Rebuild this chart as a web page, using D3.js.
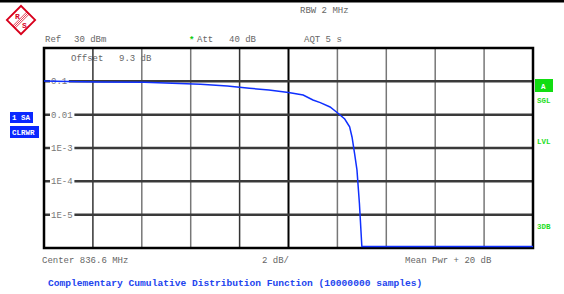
<!DOCTYPE html>
<html>
<head>
<meta charset="utf-8">
<script src="https://cdn.jsdelivr.net/npm/d3@7"></script>
<style>
    body { margin: 0; background: #fff; }
    svg { display: block; }
    text { font-family: "Liberation Mono", "DejaVu Sans Mono", monospace; white-space: pre; }
</style>
</head>
<body>
<div id="chart"></div>
<script>
// dB above mean power, and the probability of exceeding it
var levelDb = [0, 1.5, 2.3, 4.1, 6.4, 7.5, 8.4, 9.2, 10.0, 10.6, 11.0, 11.3, 11.7, 12.0, 12.3, 12.5, 12.6, 12.7, 12.8, 12.9, 13.0, 20];
var ccdf = [0.102, 0.097, 0.095, 0.094, 0.082, 0.072, 0.062, 0.055, 0.046, 0.039, 0.0275, 0.023, 0.017, 0.0114, 0.0074, 0.0043, 0.0021, 0.0007, 0.00022, 0.000022, 0.0000011, 0.0000011];

var xTicks = [0, 2, 4, 6, 8, 10, 12, 14, 16, 18, 20];
var yTicks = [1, 0.1, 0.01, 1e-3, 1e-4, 1e-5, 1e-6];
var yTickLabels = ['', '0.1', '0.01', '1E-3', '1E-4', '1E-5', ''];

var W = 564, H = 294;
var plot = {left: 44, right: 533, top: 48, bottom: 248};

var svg = d3.select('#chart').append('svg').attr('width', W).attr('height', H);

var x = d3.scaleLinear().domain([0, 20]).range([plot.left, plot.right]);
var y = d3.scaleLog().domain([1e-6, 1]).range([plot.bottom, plot.top]);

drawHeader();
drawGrid();
drawTrace();
drawSideLabels();
drawFooter();

function drawHeader() {
    svg.append('line')
        .attr('x1', 0).attr('x2', W).attr('y1', 1).attr('y2', 1)
        .attr('stroke', '#000').attr('stroke-width', 3);

    // R&S logo: outlined diamond, a band of stripes, R and S
    var red = '#d8001c';
    var logo = svg.append('g').attr('transform', 'translate(21,20) rotate(45)');
    logo.append('rect').attr('x', -10).attr('y', -10).attr('width', 20).attr('height', 20)
        .attr('fill', '#fff').attr('stroke', red).attr('stroke-width', 1.8);
    [-1.6, 0, 1.6].forEach(function (d) {
        logo.append('line').attr('x1', d).attr('x2', d).attr('y1', -10).attr('y2', 10)
            .attr('stroke', red).attr('stroke-width', 0.7);
    });
    svg.append('text').attr('x', 15).attr('y', 19).text('R')
        .attr('fill', red).attr('font-size', 8).attr('font-weight', 'bold')
        .attr('font-family', 'Liberation Sans');
    svg.append('text').attr('x', 22).attr('y', 28).text('S')
        .attr('fill', red).attr('font-size', 8).attr('font-weight', 'bold')
        .attr('font-family', 'Liberation Sans');

    var info = [
        {t: 'RBW 2 MHz', x: 300, y: 13},
        {t: 'Ref', x: 45, y: 42},
        {t: '30 dBm', x: 74, y: 42},
        {t: 'Att', x: 197, y: 42},
        {t: '40 dB', x: 229, y: 42},
        {t: 'AQT 5 s', x: 304, y: 42},
        {t: 'Offset', x: 71, y: 61},
        {t: '9.3 dB', x: 119, y: 61}
    ];
    svg.selectAll('.info').data(info).enter().append('text')
        .attr('class', 'info')
        .attr('x', function (d) { return d.x; })
        .attr('y', function (d) { return d.y; })
        .attr('font-size', 9).attr('fill', '#666')
        .text(function (d) { return d.t; });

    svg.append('text').attr('x', 189).attr('y', 43).text('*')
        .attr('font-size', 9).attr('fill', '#1c1').attr('font-weight', 'bold');
}

function drawGrid() {
    var g = svg.append('g');

    g.selectAll('.vgrid').data(xTicks.slice(1, -1)).enter().append('line')
        .attr('class', 'vgrid')
        .attr('x1', x).attr('x2', x)
        .attr('y1', plot.top).attr('y2', plot.bottom)
        .attr('stroke', function (d) { return d === 10 ? '#000' : (d === 2 || d === 8 ? '#333' : '#777'); })
        .attr('stroke-width', function (d) { return d === 10 ? 2 : 1.5; });

    var inner = yTicks.slice(1, -1);
    g.selectAll('.hgrid').data(inner).enter().append('line')
        .attr('class', 'hgrid')
        .attr('x1', plot.left).attr('x2', plot.right)
        .attr('y1', y).attr('y2', y)
        .attr('stroke', '#3a3a3a').attr('stroke-width', 2.5);

    var labels = g.selectAll('.ylab').data(inner).enter().append('g')
        .attr('class', 'ylab')
        .attr('transform', function (d) { return 'translate(50,' + y(d) + ')'; });
    labels.append('rect')
        .attr('x', 0).attr('y', -3).attr('height', 6)
        .attr('width', function (d) { return yTickLabels[yTicks.indexOf(d)].length * 5.6 + 2; })
        .attr('fill', '#fff');
    labels.append('text')
        .attr('x', 1).attr('y', 3)
        .attr('font-size', 9).attr('fill', '#777')
        .text(function (d) { return yTickLabels[yTicks.indexOf(d)]; });

    g.append('rect')
        .attr('x', plot.left).attr('y', plot.top)
        .attr('width', plot.right - plot.left).attr('height', plot.bottom - plot.top)
        .attr('fill', 'none').attr('stroke', '#000').attr('stroke-width', 2.5);
}

function drawTrace() {
    var pts = levelDb.map(function (d, i) { return [d, ccdf[i]]; });
    var line = d3.line()
        .x(function (d) { return x(d[0]); })
        .y(function (d) { return Math.min(y(d[1]), plot.bottom - 1.5); });
    svg.append('path')
        .attr('d', line(pts))
        .attr('fill', 'none').attr('stroke', '#1030ff').attr('stroke-width', 1.5);
}

function drawSideLabels() {
    var boxes = [
        {t: '1 SA', x: 10, y: 112, w: 23, h: 11},
        {t: 'CLRWR', x: 10, y: 126, w: 29, h: 12}
    ];
    var b = svg.selectAll('.lbox').data(boxes).enter().append('g').attr('class', 'lbox');
    b.append('rect')
        .attr('x', function (d) { return d.x; }).attr('y', function (d) { return d.y; })
        .attr('width', function (d) { return d.w; }).attr('height', function (d) { return d.h; })
        .attr('fill', '#0a28ff');
    b.append('text')
        .attr('x', function (d) { return d.x + 2; }).attr('y', function (d) { return d.y + d.h - 3; })
        .attr('font-size', 7.5).attr('font-weight', 'bold').attr('fill', '#fff')
        .text(function (d) { return d.t; });

    svg.append('rect').attr('x', 535).attr('y', 79).attr('width', 18).attr('height', 13).attr('fill', '#11dd11');
    svg.append('text').attr('x', 541).attr('y', 89).text('A')
        .attr('font-size', 7.5).attr('font-weight', 'bold').attr('fill', '#fff');

    var right = [{t: 'SGL', y: 103}, {t: 'LVL', y: 144}, {t: '3DB', y: 229}];
    svg.selectAll('.rlab').data(right).enter().append('text')
        .attr('class', 'rlab')
        .attr('x', 537).attr('y', function (d) { return d.y; })
        .attr('font-size', 7.5).attr('font-weight', 'bold').attr('fill', '#22dd22')
        .attr('font-family', 'Liberation Serif')
        .text(function (d) { return d.t; });
}

function drawFooter() {
    var foot = [
        {t: 'Center 836.6 MHz', x: 42},
        {t: '2 dB/', x: 262},
        {t: 'Mean Pwr + 20 dB', x: 405}
    ];
    svg.selectAll('.foot').data(foot).enter().append('text')
        .attr('class', 'foot')
        .attr('x', function (d) { return d.x; }).attr('y', 263)
        .attr('font-size', 9).attr('fill', '#666')
        .text(function (d) { return d.t; });

    svg.append('text')
        .attr('x', 48).attr('y', 286)
        .attr('font-size', 9.6).attr('font-weight', 'bold').attr('fill', '#2244ee')
        .text('Complementary Cumulative Distribution Function (10000000 samples)');
}
</script>
</body>
</html>
